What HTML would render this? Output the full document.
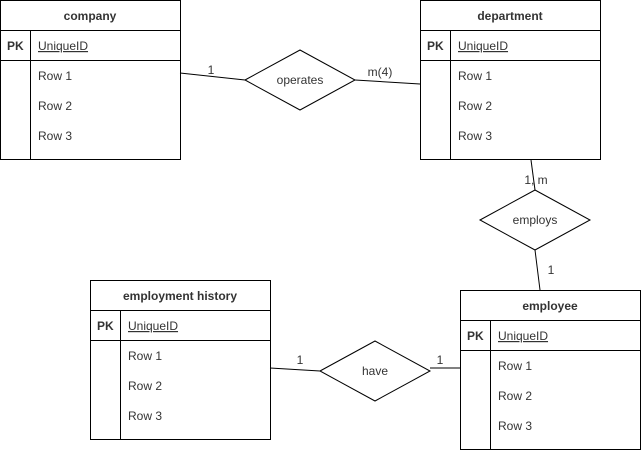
<!DOCTYPE html>
<html><head><style>body{margin:0;background:#fff}svg{display:block}text{font-family:"Liberation Sans",Arial,sans-serif;font-size:12px;fill:#333}.b{font-weight:bold}</style></head><body>
<svg width="641" height="451" viewBox="0 0 641 451" xmlns="http://www.w3.org/2000/svg">
<g fill="none" stroke="#000" stroke-width="1">
<rect x="0.5" y="0.5" width="180" height="159"/><line x1="0.5" y1="30.5" x2="180.5" y2="30.5"/><line x1="0.5" y1="60.5" x2="180.5" y2="60.5"/><line x1="30.5" y1="30.5" x2="30.5" y2="159.5"/>
<rect x="420.5" y="0.5" width="180" height="159"/><line x1="420.5" y1="30.5" x2="600.5" y2="30.5"/><line x1="420.5" y1="60.5" x2="600.5" y2="60.5"/><line x1="450.5" y1="30.5" x2="450.5" y2="159.5"/>
<rect x="90.5" y="280.5" width="180" height="159"/><line x1="90.5" y1="310.5" x2="270.5" y2="310.5"/><line x1="90.5" y1="340.5" x2="270.5" y2="340.5"/><line x1="120.5" y1="310.5" x2="120.5" y2="439.5"/>
<rect x="460.5" y="290.5" width="180" height="159"/><line x1="460.5" y1="320.5" x2="640.5" y2="320.5"/><line x1="460.5" y1="350.5" x2="640.5" y2="350.5"/><line x1="490.5" y1="320.5" x2="490.5" y2="449.5"/>
<polygon points="245,80 300,50 355,80 300,110"/>
<polygon points="480,220 535,190 590,220 535,250"/>
<polygon points="320,371 375,341 430,371 375,401"/>
<line x1="180" y1="73" x2="245" y2="80"/><line x1="355" y1="80" x2="420" y2="84"/>
<line x1="531" y1="160" x2="535" y2="190"/><line x1="535" y1="250" x2="540" y2="290"/>
<line x1="270" y1="368" x2="320" y2="371"/><line x1="430" y1="368" x2="460" y2="368"/>
</g>
<g text-anchor="middle">
<text class="b" x="90" y="20">company</text><text class="b" x="510" y="20">department</text><text class="b" x="180" y="300">employment history</text><text class="b" x="550" y="310">employee</text>
<text x="300" y="84">operates</text><text x="535" y="224">employs</text><text x="375" y="375">have</text>
<text x="211" y="74">1</text><text x="380" y="76">m(4)</text><text x="536" y="184">1, m</text><text x="551" y="274">1</text><text x="300" y="364">1</text><text x="440" y="364">1</text>
</g>
<g>
<text class="b" x="7" y="50">PK</text><text x="38" y="50" text-decoration="underline">UniqueID</text>
<text x="38" y="80">Row 1</text><text x="38" y="110">Row 2</text><text x="38" y="140">Row 3</text>
<text class="b" x="427" y="50">PK</text><text x="458" y="50" text-decoration="underline">UniqueID</text>
<text x="458" y="80">Row 1</text><text x="458" y="110">Row 2</text><text x="458" y="140">Row 3</text>
<text class="b" x="97" y="330">PK</text><text x="128" y="330" text-decoration="underline">UniqueID</text>
<text x="128" y="360">Row 1</text><text x="128" y="390">Row 2</text><text x="128" y="420">Row 3</text>
<text class="b" x="467" y="340">PK</text><text x="498" y="340" text-decoration="underline">UniqueID</text>
<text x="498" y="370">Row 1</text><text x="498" y="400">Row 2</text><text x="498" y="430">Row 3</text>
</g>
</svg>
</body></html>
